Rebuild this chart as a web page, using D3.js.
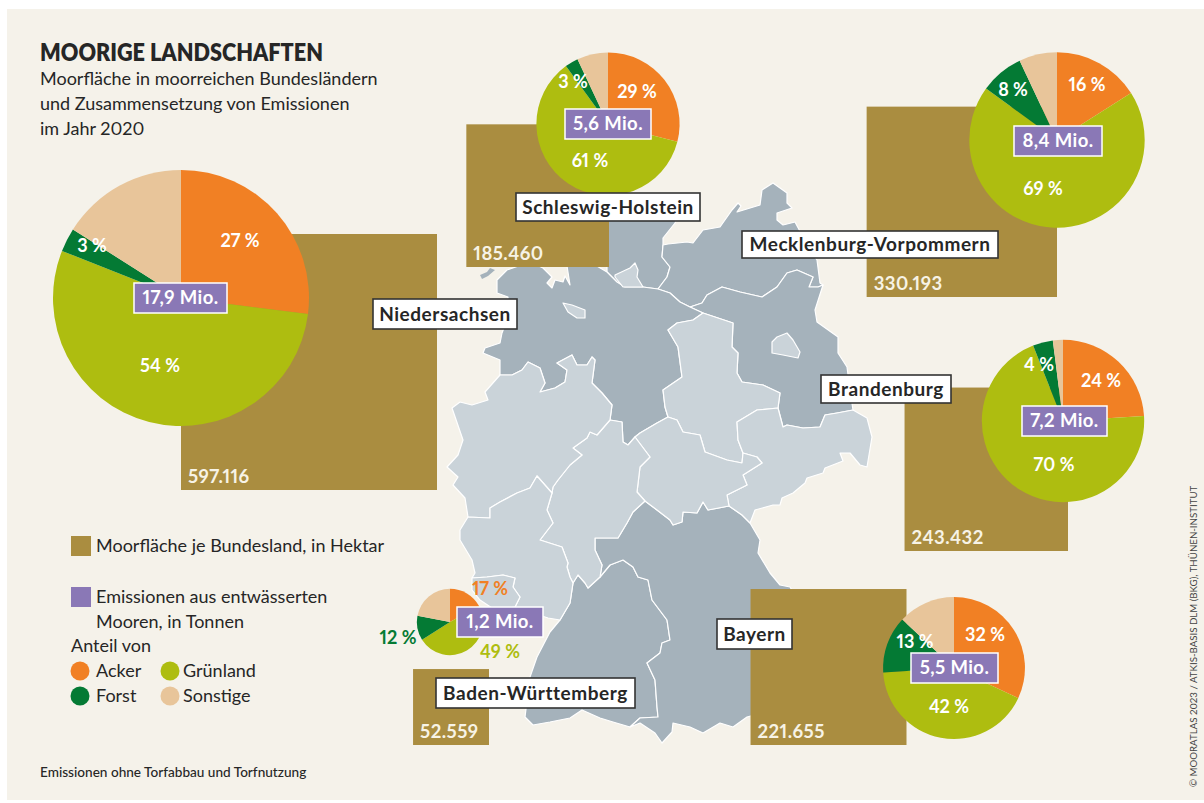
<!DOCTYPE html>
<html lang="de">
<head>
<meta charset="utf-8">
<title>Moorige Landschaften</title>
<script src="https://cdn.jsdelivr.net/npm/d3@7"></script>
<style>
  html, body { margin: 0; padding: 0; background: #fff; }
  svg { display: block; }
  text { font-family: Lato, "Open Sans", sans-serif; font-variant-numeric: proportional-nums; }
</style>
</head>
<body>
<svg id="chart" width="1204" height="803"></svg>
<script>
// values
const states = ['Niedersachsen', 'Schleswig-Holstein', 'Mecklenburg-Vorpommern', 'Brandenburg', 'Bayern', 'Baden-Württemberg'];
const hectares = [597116, 185460, 330193, 243432, 221655, 52559];
const emissions = [17.9, 5.6, 8.4, 7.2, 5.5, 1.2];
const acker = [27, 29, 16, 24, 32, 17];
const gruenland = [54, 61, 69, 70, 42, 49];
const forst = [3, 3, 8, 4, 13, 12];
const sonstige = [16, 7, 7, 2, 13, 22];
const shareNames = ['Acker', 'Grünland', 'Forst', 'Sonstige'];

const titleText = 'MOORIGE LANDSCHAFTEN';
const subtitleLines = ['Moorfläche in moorreichen Bundesländern', 'und Zusammensetzung von Emissionen', 'im Jahr 2020'];
const footnote = 'Emissionen ohne Torfabbau und Torfnutzung';
const credit = '© MOORATLAS 2023 / ATKIS-BASIS DLM (BKG), THÜNEN-INSTITUT';

// layout, same order as states
const squareRight = [437, 609, 1057, 1068, 906.5, 489];
const squareBottom = [490, 267, 297, 551, 745, 745];
const pieCentres = [[181, 298], [608, 124], [1057, 140], [1063, 421], [954, 668], [450, 622]];
const purpleBoxes = [[134, 283, 93, 30], [565, 109, 86, 30], [1014, 126, 88, 30], [1022, 406, 85, 30], [911, 653, 87, 30], [457, 607, 86, 30]];
const nameBoxes = [[373, 299, 144, 30], [516, 193, 184, 28], [742, 231, 256, 27], [821, 375, 130, 28], [717, 619, 75, 30], [436, 678, 199, 30]];
// centres of the share labels: acker, gruenland, forst (sonstige has none)
const shareLabelPos = [
  [[240, 241], [160, 366], [92, 246]],
  [[637, 92], [590, 161], [573, 82]],
  [[1087, 85], [1043, 189], [1013, 90]],
  [[1101, 381], [1054, 465], [1039, 365]],
  [[985, 635], [949, 707], [915, 642]],
  [[490, 589], [500, 652], [398, 638]]
];
// these sit outside the small pie, so they take the slice colour
const outsideLabels = [5];

const colors = { acker: '#f18024', gruenland: '#aebd10', forst: '#047a34', sonstige: '#e8c59a' };
const shareColors = [colors.acker, colors.gruenland, colors.forst, colors.sonstige];
const squareColor = '#aa8d40';
const purple = '#8a78b6';
const darkLand = '#a5b2bb';
const lightLand = '#cad3d9';
const ink = '#262626';

// map outlines in its own pixel space; shared borders first
const rev = a => a.slice().reverse();
const elbe = [[607, 272], [617, 282], [625, 287], [643, 287], [658, 289], [670, 293], [680, 302], [690, 307], [703, 313]];
const shMv = [[658, 289], [667, 277], [670, 267], [662, 257], [663, 245]];
const mvBb = [[690, 307], [702, 303], [707, 295], [722, 287], [740, 292], [762, 297], [777, 287], [787, 273], [797, 270], [813, 277], [809, 287], [818, 287], [823, 285]];
const bbSn = [[853, 410], [837, 413], [825, 415], [820, 427], [803, 428], [787, 425], [783, 427], [778, 408]];
const bbSt = [[778, 408], [780, 393], [763, 385], [742, 382], [737, 373], [738, 353], [732, 347], [733, 323], [703, 313]];
const stNi = [[703, 313], [693, 320], [677, 323], [668, 330], [678, 347], [682, 377], [663, 390], [665, 407], [668, 417]];
const stTh = [[668, 417], [677, 420], [683, 432], [700, 435], [705, 452], [727, 460], [742, 463], [743, 453]];
const stSn = [[743, 453], [738, 440], [737, 422], [757, 410], [778, 408]];
const thSn = [[743, 453], [757, 457], [762, 463], [743, 475], [747, 485], [727, 495], [729, 506]];
const thBy = [[645, 501], [657, 510], [670, 520], [673, 525], [682, 522], [683, 512], [697, 513], [703, 502], [708, 510], [729, 506]];
const thNi = [[668, 417], [657, 423], [640, 433], [635, 437]];
const heTh = [[635, 437], [650, 457], [640, 467], [637, 492], [645, 501]];
const heBy = [[645, 501], [633, 512], [627, 523], [618, 538], [595, 538], [595, 550], [602, 565], [600, 577]];
const heNi = [[610, 420], [622, 422], [623, 442], [628, 445], [635, 437]];
const nwNi = [[500, 375], [512, 375], [522, 370], [528, 362], [540, 368], [545, 383], [540, 392], [555, 388], [565, 382], [567, 370], [557, 363], [572, 355], [577, 365], [587, 365], [592, 357], [595, 360], [592, 383], [602, 393], [612, 405], [610, 420]];
const nwHe = [[552, 493], [553, 487], [558, 480], [570, 465], [582, 455], [573, 448], [587, 438], [590, 432], [597, 435], [610, 420]];
const nwRp = [[468, 517], [490, 518], [490, 508], [500, 502], [517, 493], [530, 488], [537, 476], [552, 493]];
const heRp = [[552, 493], [547, 510], [553, 523], [540, 540], [562, 547], [568, 563], [567, 567], [570, 577]];
const heBw = [[570, 577], [573, 583], [578, 575], [585, 583], [588, 588], [600, 577]];
const bwBy = [[600, 577], [610, 565], [623, 560], [633, 567], [638, 577], [648, 580], [652, 600], [667, 620], [670, 640], [662, 643], [660, 653], [647, 663], [655, 680], [657, 707], [658, 717], [640, 718], [630, 727]];
const rpBw = [[560, 620], [570, 603], [573, 583]];
const snBy = [[729, 506], [742, 515], [750, 523]];

const outlines = {
  dark: [
    // Schleswig-Holstein
    [...elbe.slice(0, 5), ...shMv.slice(1), [663, 238], [675, 223], [680, 210], [640, 195], [607, 195]],
    // Mecklenburg-Vorpommern
    [...shMv, [668, 244], [687, 242], [693, 243], [703, 230], [720, 227], [732, 210], [738, 203], [741, 206], [737, 212], [760, 205], [762, 190], [773, 183], [787, 193], [787, 203], [792, 208], [777, 213], [777, 220], [783, 225], [795, 222], [803, 237], [810, 250], [817, 260], [820, 283], [823, 285], ...rev(mvBb), [680, 302], [670, 293]],
    // Brandenburg
    [...mvBb, [815, 310], [817, 322], [838, 337], [838, 353], [847, 367], [850, 390], [853, 410], ...bbSn.slice(1), ...bbSt.slice(1), [690, 307]],
    // Niedersachsen
    [[507, 270], [497, 280], [497, 293], [508, 297], [507, 320], [502, 333], [500, 343], [485, 348], [483, 353], [500, 360], ...nwNi, ...heNi.slice(1), ...rev(thNi).slice(1), ...rev(stNi).slice(1), ...rev(elbe).slice(1), [590, 262], [567, 266], [570, 285], [565, 276], [563, 282], [555, 280], [552, 288], [547, 283], [552, 277], [543, 268], [530, 262]],
    // Baden-Württemberg
    [...heBw, ...bwBy, [613, 722], [600, 718], [582, 710], [570, 718], [550, 722], [533, 725], [525, 717], [530, 677], [537, 657], [550, 632], [560, 620], ...rpBw.slice(1)],
    // Bayern
    [...rev(heBy), ...thBy.slice(1), ...snBy.slice(1), [760, 540], [758, 553], [770, 573], [780, 585], [790, 587], [810, 620], [810, 700], [747, 717], [733, 727], [720, 723], [703, 733], [690, 727], [673, 723], [672, 732], [662, 743], [655, 733], [640, 723], [630, 727], ...rev(bwBy).slice(1)]
  ],
  light: [
    // Hamburg
    [[615, 275], [630, 268], [635, 263], [638, 270], [637, 277], [643, 287], [623, 287], [615, 277]],
    // Berlin
    [[772, 342], [777, 337], [787, 333], [793, 340], [800, 352], [798, 358], [783, 355], [772, 353]],
    // Steinhuder Meer
    [[563, 303], [572, 305], [585, 310], [585, 318], [577, 318], [568, 312]],
    // Sachsen-Anhalt
    [...rev(bbSt), ...rev(stSn).slice(1), ...rev(stTh).slice(1), ...rev(stNi).slice(1)],
    // Sachsen
    [...rev(bbSn), [853, 410], [867, 418], [872, 437], [867, 467], [860, 465], [850, 453], [840, 453], [843, 461], [825, 468], [823, 473], [807, 478], [805, 483], [793, 493], [782, 498], [780, 505], [773, 505], [755, 510], [750, 523], ...rev(snBy).slice(1), ...rev(thSn).slice(1), ...stSn.slice(1)],
    // Thueringen
    [...stTh, ...thSn.slice(1), ...rev(thBy).slice(1), ...rev(heTh).slice(1), ...rev(thNi).slice(1)],
    // Hessen
    [...nwHe, ...heNi.slice(1), ...heTh.slice(1), ...heBy.slice(1), ...rev(heBw).slice(1), ...rev(heRp).slice(1)],
    // Nordrhein-Westfalen
    [[500, 375], [485, 392], [488, 400], [472, 405], [460, 402], [452, 408], [463, 440], [458, 455], [447, 467], [458, 477], [453, 485], [465, 498], [468, 517], ...nwRp.slice(1), ...nwHe.slice(1), ...rev(nwNi).slice(1)],
    // Rheinland-Pfalz
    [...nwRp, ...heRp.slice(1), [573, 583], ...rev(rpBw).slice(1), [548, 618], [515, 607], [520, 597], [513, 587], [515, 578], [503, 575], [487, 577], [472, 578], [475, 573], [472, 560], [460, 540], [460, 530]],
    // Saarland
    [[472, 578], [487, 577], [503, 575], [515, 578], [513, 587], [520, 597], [515, 607], [495, 610], [480, 600], [472, 590]]
  ],
  islands: [
    [[480, 275], [487, 272], [490, 268], [495, 270], [488, 276], [482, 279]]
  ]
};

const svg = d3.select('#chart');
const de = d3.formatLocale({ decimal: ',', thousands: '.', grouping: [3], currency: ['', ' €'] });
const fmtHa = de.format(',d');
const fmtMio = de.format('.1f');

// panel
svg.append('rect').attr('x', 7).attr('y', 9).attr('width', 1197).attr('height', 791).attr('fill', '#f5f2ea');

// map
const geoPath = d3.geoPath(d3.geoIdentity());
const toFeature = ring => ({ type: 'Feature', geometry: { type: 'Polygon', coordinates: [[...ring, ring[0]]] } });
const mapLayer = svg.append('g').attr('stroke-linejoin', 'round');
mapLayer.selectAll('path.dark').data(outlines.dark.map(toFeature)).join('path')
  .attr('class', 'dark').attr('d', geoPath).attr('fill', darkLand).attr('stroke', '#fff').attr('stroke-width', 1.2);
mapLayer.selectAll('path.light').data(outlines.light.map(toFeature)).join('path')
  .attr('class', 'light').attr('d', geoPath).attr('fill', lightLand).attr('stroke', '#fff').attr('stroke-width', 1.2);
mapLayer.selectAll('path.island').data(outlines.islands.map(toFeature)).join('path')
  .attr('class', 'island').attr('d', geoPath).attr('fill', darkLand);

// area squares and pies share one sqrt scale each, so areas stay comparable
const side = d3.scaleSqrt().domain([0, d3.max(hectares)]).range([0, 256]);
const radius = d3.scaleSqrt().domain([0, d3.max(emissions)]).range([0, 128]);

const rows = states.map((name, i) => ({
  name,
  i,
  hectares: hectares[i],
  emissions: emissions[i],
  shares: [acker[i], gruenland[i], forst[i], sonstige[i]]
}));

svg.append('g').selectAll('rect').data(rows).join('rect')
  .attr('x', d => squareRight[d.i] - side(d.hectares))
  .attr('y', d => squareBottom[d.i] - side(d.hectares))
  .attr('width', d => side(d.hectares))
  .attr('height', d => side(d.hectares))
  .attr('fill', squareColor);

svg.append('g').selectAll('text').data(rows).join('text')
  .attr('x', d => squareRight[d.i] - side(d.hectares) + 7)
  .attr('y', d => squareBottom[d.i] - 7)
  .attr('fill', '#f7f3e6')
  .attr('font-size', 18.5)
  .attr('font-weight', 700)
  .attr('letter-spacing', 0.45)
  .text(d => fmtHa(d.hectares));

const pie = d3.pie().sort(null).value(d => d);
const pies = svg.append('g').selectAll('g').data(rows).join('g')
  .attr('transform', d => `translate(${pieCentres[d.i]})`);
pies.selectAll('path').data(d => pie(d.shares).map(s => ({ ...s, r: radius(d.emissions) }))).join('path')
  .attr('d', s => d3.arc().innerRadius(0).outerRadius(s.r)(s))
  .attr('fill', s => shareColors[s.index]);

// share labels
const shareLabels = rows.flatMap(d => [0, 1, 2].map(k => ({ i: d.i, k, value: d.shares[k] })));
svg.append('g').selectAll('text').data(shareLabels).join('text')
  .attr('x', d => shareLabelPos[d.i][d.k][0])
  .attr('y', d => shareLabelPos[d.i][d.k][1])
  .attr('dy', '0.35em')
  .attr('text-anchor', 'middle')
  .attr('font-size', 18)
  .attr('font-weight', 700)
  .attr('fill', d => outsideLabels.includes(d.i) ? shareColors[d.k] : '#fff')
  .text(d => `${d.value} %`);

// emission boxes
const eBoxes = svg.append('g').selectAll('g').data(rows).join('g');
eBoxes.append('rect')
  .attr('x', d => purpleBoxes[d.i][0])
  .attr('y', d => purpleBoxes[d.i][1])
  .attr('width', d => purpleBoxes[d.i][2])
  .attr('height', d => purpleBoxes[d.i][3])
  .attr('fill', purple).attr('stroke', '#fff').attr('stroke-width', 1.5);
eBoxes.append('text')
  .attr('x', d => purpleBoxes[d.i][0] + purpleBoxes[d.i][2] / 2)
  .attr('y', d => purpleBoxes[d.i][1] + purpleBoxes[d.i][3] / 2)
  .attr('dy', '0.35em')
  .attr('text-anchor', 'middle')
  .attr('font-size', 18.5)
  .attr('font-weight', 700)
  .attr('letter-spacing', 0.4)
  .attr('fill', '#fff')
  .text(d => `${fmtMio(d.emissions)} Mio.`);

// state name boxes
const nBoxes = svg.append('g').selectAll('g').data(rows).join('g');
nBoxes.append('rect')
  .attr('x', d => nameBoxes[d.i][0])
  .attr('y', d => nameBoxes[d.i][1])
  .attr('width', d => nameBoxes[d.i][2])
  .attr('height', d => nameBoxes[d.i][3])
  .attr('fill', '#fff').attr('stroke', '#333').attr('stroke-width', 1.6);
nBoxes.append('text')
  .attr('x', d => nameBoxes[d.i][0] + nameBoxes[d.i][2] / 2)
  .attr('y', d => nameBoxes[d.i][1] + nameBoxes[d.i][3] / 2)
  .attr('dy', '0.35em')
  .attr('text-anchor', 'middle')
  .attr('font-size', 19)
  .attr('font-weight', 700)
  .attr('letter-spacing', 0.55)
  .attr('fill', ink)
  .text(d => d.name);

// heading
svg.append('text').attr('x', 40).attr('y', 61).attr('font-size', 24).attr('font-weight', 800).attr('fill', ink)
  .attr('textLength', 283).attr('lengthAdjust', 'spacingAndGlyphs').text(titleText);
svg.append('g').selectAll('text').data(subtitleLines).join('text')
  .attr('x', 40).attr('y', (d, i) => 85 + i * 25)
  .attr('font-size', 18).attr('fill', ink).text(d => d);

// legend
const legend = svg.append('g').attr('font-size', 18).attr('fill', ink);
legend.append('rect').attr('x', 71).attr('y', 536).attr('width', 20).attr('height', 20).attr('fill', squareColor);
legend.append('text').attr('x', 96).attr('y', 552).text('Moorfläche je Bundesland, in Hektar');
legend.append('rect').attr('x', 71).attr('y', 587).attr('width', 20).attr('height', 20).attr('fill', purple);
legend.append('text').attr('x', 96).attr('y', 603).text('Emissionen aus entwässerten');
legend.append('text').attr('x', 96).attr('y', 628).text('Mooren, in Tonnen');
legend.append('text').attr('x', 71).attr('y', 652).text('Anteil von');
const dotX = [80, 170, 80, 170];
const dotY = [671, 671, 696, 696];
legend.selectAll('circle').data(shareNames).join('circle')
  .attr('cx', (d, i) => dotX[i]).attr('cy', (d, i) => dotY[i]).attr('r', 9.5)
  .attr('fill', (d, i) => shareColors[i]);
legend.selectAll('text.share').data(shareNames).join('text')
  .attr('class', 'share')
  .attr('x', (d, i) => dotX[i] + (i % 2 ? 13 : 16))
  .attr('y', (d, i) => dotY[i] + 6)
  .text(d => d);

svg.append('text').attr('x', 40).attr('y', 777).attr('font-size', 13.6).attr('font-weight', 500).attr('fill', ink).text(footnote);
svg.append('text').attr('transform', 'translate(1197,787) rotate(-90)')
  .attr('font-size', 9.7).attr('fill', '#444').text(credit);
</script>
</body>
</html>
